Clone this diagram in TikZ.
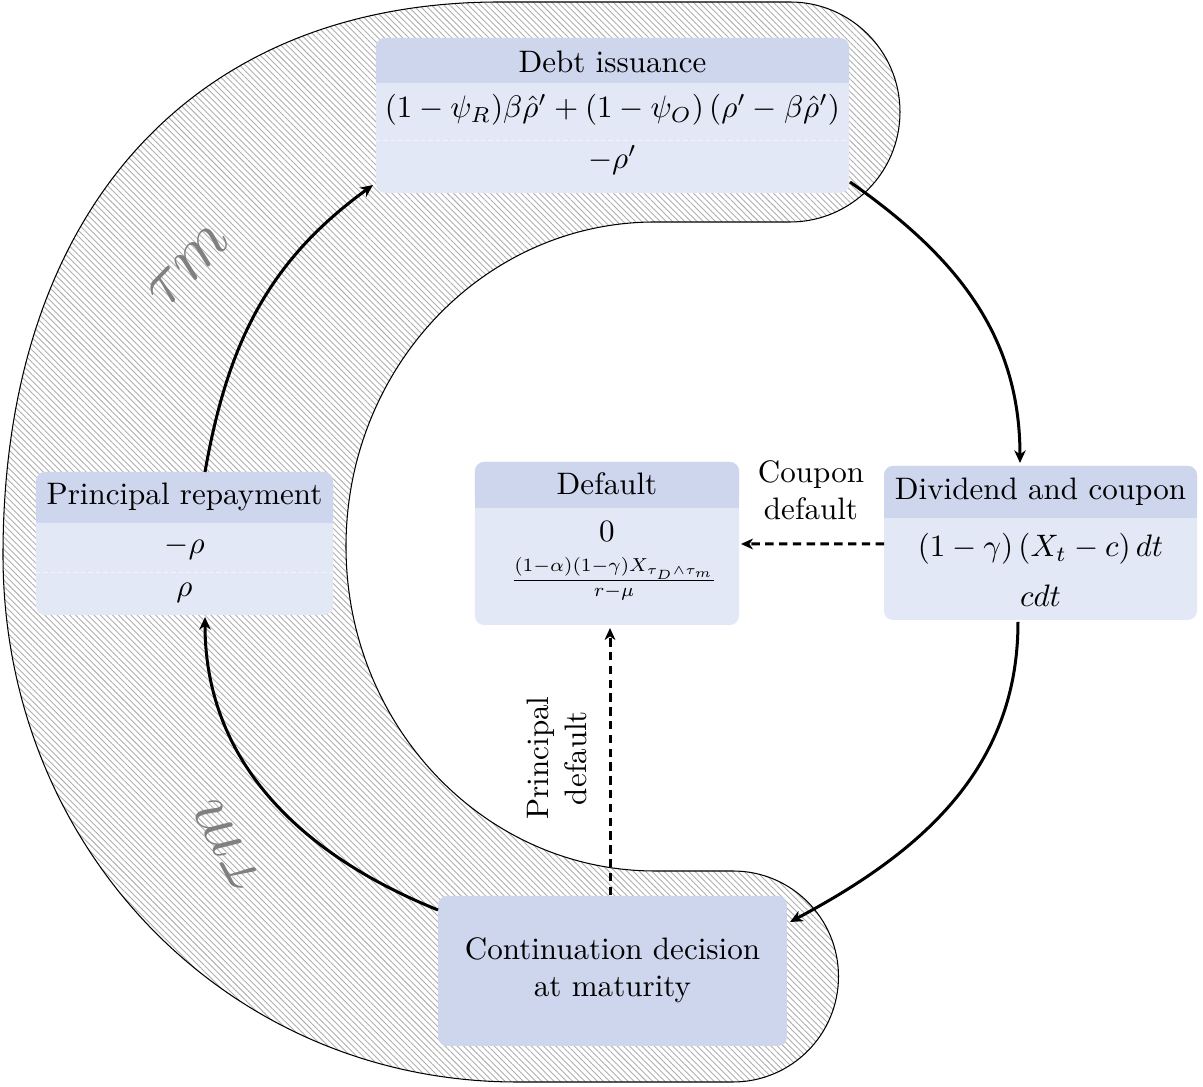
\documentclass[tikz,border=0pt]{standalone}
\usepackage{amsmath}
\usetikzlibrary{arrows.meta,patterns.meta,calc}
\definecolor{hdr}{RGB}{206,214,237}
\definecolor{bdy}{RGB}{226,232,245}
\definecolor{hatch}{RGB}{175,175,175}
\begin{document}
\begin{tikzpicture}[x=0.33333pt,y=0.33333pt,
  box/.style={draw=none, fill=bdy, rounded corners=3pt, inner sep=0pt, outer sep=0pt},
  txt/.style={inner sep=0pt, scale=1.035},
  lbl/.style={txt, anchor=base},
  sepline/.style={draw=white, line width=0.3pt, dash pattern=on 1.5pt off 1pt, opacity=0.6},
  flow/.style={line width=1pt, -{Stealth[length=4.2pt,width=3.8pt,inset=1.3pt]}},
  dflow/.style={line width=1pt, dash pattern=on 2.8pt off 1.8pt, -{Stealth[length=4pt,width=3.6pt,inset=1.2pt]}},
  band/.style={draw=black, line width=0.35pt, pattern={Lines[angle=-45,distance=1.45pt,line width=0.3pt]}, pattern color=hatch},
  taulbl/.style={text=gray, scale=2.25, inner sep=0pt}
]
\useasboundingbox (0,0) rectangle (1203,-1087);

% hatched band
\path[band] (500,-2) -- (790,-2) arc[start angle=90,end angle=-90,radius=110]
  -- (655,-222) arc[start angle=90,end angle=270,x radius=309,y radius=324.5]
  -- (733,-871) arc[start angle=90,end angle=-90,radius=105.5]
  -- (517,-1082) .. controls (229,-1082) and (3,-850) .. (3,-555)
  .. controls (3,-212) and (192,-2) .. (500,-2) -- cycle;

% boxes
\node[box, minimum width=157.67pt, minimum height=51.67pt] (debt) at (612.5,-115.5) {};
\fill[hdr, rounded corners=3pt] (debt.north west) rectangle (debt.east |- 0,-83);
\fill[hdr] (debt.west |- 0,-60) rectangle (debt.east |- 0,-83);
\draw[sepline] (debt.west |- 0,-140) -- (debt.east |- 0,-140);

\node[box, minimum width=99pt, minimum height=47.67pt] (prin) at (184.5,-543.5) {};
\fill[hdr, rounded corners=3pt] (prin.north west) rectangle (prin.east |- 0,-523);
\fill[hdr] (prin.west |- 0,-500) rectangle (prin.east |- 0,-523);
\draw[sepline] (prin.west |- 0,-572) -- (prin.east |- 0,-572);

\node[box, minimum width=88pt, minimum height=54.33pt] (def) at (607,-543.5) {};
\fill[hdr, rounded corners=3pt] (def.north west) rectangle (def.east |- 0,-508);
\fill[hdr] (def.west |- 0,-485) rectangle (def.east |- 0,-508);

\node[box, minimum width=104.33pt, minimum height=51.33pt] (div) at (1040.5,-543) {};
\fill[hdr, rounded corners=3pt] (div.north west) rectangle (div.east |- 0,-518);
\fill[hdr] (div.west |- 0,-495) rectangle (div.east |- 0,-518);

\node[box, fill=hdr, minimum width=116.33pt, minimum height=50pt] (cont) at (612.5,-971) {};

% texts
\node[lbl] (debt-h) at (612.5,-73) {Debt issuance};
\node[lbl] (debt-a) at (612.5,-118) {$(1-\psi_R)\beta\hat{\rho}'+(1-\psi_O)\left(\rho'-\beta\hat{\rho}'\right)$};
\node[lbl] (debt-b) at (612.5,-169) {$-\rho'$};

\node[lbl] (prin-h) at (184.5,-505) {Principal repayment};
\node[lbl] (prin-a) at (184.5,-553.5) {$-\rho$};
\node[lbl] (prin-b) at (184.5,-597) {$\rho$};

\node[lbl] (def-h) at (607,-495) {Default};
\node[lbl] (def-a) at (607,-542) {$0$};
\node[lbl, scale=0.865] (def-b) at (614,-587.5) {$\frac{(1-\alpha)(1-\gamma)X_{\tau_D\wedge\tau_m}}{r-\mu}$};

\node[lbl] (div-h) at (1040.5,-500) {Dividend and coupon};
\node[lbl] (div-a) at (1040.5,-556.7) {$(1-\gamma)\left(X_t-c\right)dt$};
\node[lbl] (div-b) at (1040.5,-606.7) {$cdt$};

\node[txt, align=center] (cont-t) at (612.5,-970) {Continuation decision\\at maturity};

% connectors
\draw[flow] ($(prin.north)+(20.5,0)$) to[out=80,in=216] ($(debt.south west)+(-3,8)$);
\draw[flow] ($(debt.south east)+(1,11)$) to[out=-35,in=90] ($(div.north)+(-20.5,3)$);
\draw[flow] ($(div.south)+(-22.5,-2)$) to[out=-90,in=28] ($(cont.north east)+(3,-26)$);
\draw[flow] ($(cont.north west)+(0,-14)$) to[out=158,in=-90] ($(prin.south)+(20.5,-2)$);
\draw[dflow] ($(div.west)+(0,-1)$) -- ($(def.east)+(2,-0.5)$);
\draw[dflow] ($(cont.north)+(-2.5,1)$) -- ($(def.south)+(3,-3)$);

% labels
\node[txt, align=center] (cd) at (811,-490) {Coupon\\default};
\node[txt, align=center, rotate=90] (pd) at (557,-758) {Principal\\default};
\node[taulbl, rotate=46] (tm1) at (189,-266) {$\tau m$};
\node[taulbl, rotate=118] (tm2) at (226,-845) {$\tau m$};
\end{tikzpicture}
\end{document}
